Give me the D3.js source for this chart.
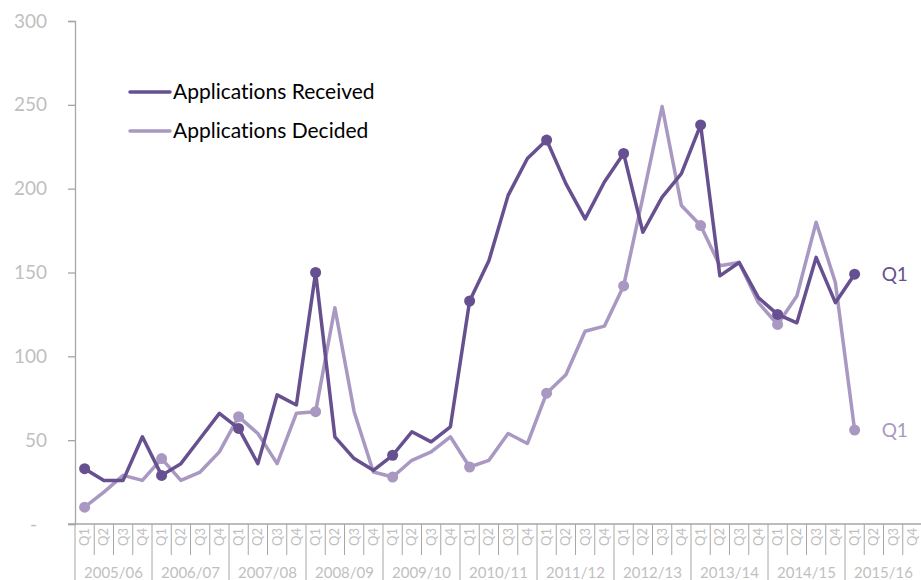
<!DOCTYPE html>
<html lang='en'>
<head>
  <meta charset='UTF-8'>
  <title>Applications Received and Decided</title>
  <style type='text/css'>
    body {
      margin: 0;
      background: #fff;
      font-family: Lato, 'Open Sans', sans-serif;
      font-variant-ligatures: none;
    }
    text {
      font-variant-ligatures: none;
    }
    .axis-label {
      fill: #bfbfbf;
    }
  </style>
  <script type='text/javascript' src='https://d3js.org/d3.v7.min.js'></script>
</head>
<body>
  <script type='text/javascript'>
    const years = ['2005/06', '2006/07', '2007/08', '2008/09', '2009/10', '2010/11',
      '2011/12', '2012/13', '2013/14', '2014/15', '2015/16']
    const quarters = ['Q1', 'Q2', 'Q3', 'Q4']
    const yTicks = [0, 50, 100, 150, 200, 250, 300]

    const received = [33, 26, 26, 52, 29, 36, 51, 66, 57, 36, 77, 71, 150, 52, 39, 32,
      41, 55, 49, 58, 133, 157, 196, 218, 229, 203, 182, 204, 221, 174, 195, 209,
      238, 148, 156, 135, 125, 120, 159, 132, 149]
    const decided = [10, 19, 29, 26, 39, 26, 31, 43, 64, 54, 36, 66, 67, 129, 67, 31,
      28, 38, 43, 52, 34, 38, 54, 48, 78, 89, 115, 118, 142, 195, 249, 190,
      178, 154, 156, 132, 119, 136, 180, 144, 56]

    const seriesNames = ['Applications Received', 'Applications Decided']
    const colors = ['#66508f', '#a898c2']
    const gridColor = '#a6a6a6'

    const width = 921
    const height = 580
    const margin = {left: 75, right: 922, top: 21, bottom: 524}

    const svg = d3.select('body').append('svg')
      .attr('width', width)
      .attr('height', height)

    const keys = []
    years.forEach(y => quarters.forEach(q => keys.push(y + ' ' + q)))

    const xScale = d3.scaleBand().domain(keys).range([margin.left, margin.right]).padding(0)
    const yScale = d3.scaleLinear().domain([0, 300]).range([margin.bottom, margin.top])
    const bw = xScale.bandwidth()

    // y axis
    const yAxis = d3.axisLeft(yScale)
      .tickValues(yTicks)
      .tickSize(7)
      .tickFormat(d => d === 0 ? '-' : d)

    const yg = svg.append('g')
      .attr('transform', `translate(${margin.left},0)`)
      .call(yAxis)
    yg.select('.domain').attr('stroke', gridColor).attr('stroke-width', 1.3)
    yg.selectAll('.tick line').attr('stroke', gridColor).attr('stroke-width', 1.3)
    yg.selectAll('.tick text')
      .attr('class', 'axis-label')
      .attr('x', -28)
      .style('font-size', '19px')
      .style('font-family', 'Lato, sans-serif')
    yg.selectAll('.tick').filter(d => d === 0).select('text').attr('x', -38)

    // x axis line
    svg.append('line')
      .attr('x1', margin.left - 7).attr('x2', margin.right)
      .attr('y1', margin.bottom).attr('y2', margin.bottom)
      .attr('stroke', gridColor).attr('stroke-width', 1.3)

    // quarter separators, longer at each year
    svg.append('g').selectAll('line')
      .data(keys)
      .join('line')
      .attr('x1', d => xScale(d)).attr('x2', d => xScale(d))
      .attr('y1', margin.bottom)
      .attr('y2', (d, i) => i % 4 === 0 ? height : 555)
      .attr('stroke', gridColor).attr('stroke-width', 1)
    svg.append('line')
      .attr('x1', margin.right - 0.5).attr('x2', margin.right - 0.5)
      .attr('y1', margin.bottom).attr('y2', height)
      .attr('stroke', gridColor)

    // quarter labels
    svg.append('g').selectAll('text')
      .data(keys)
      .join('text')
      .attr('class', 'axis-label')
      .attr('transform', d => `translate(${xScale(d) + bw / 2 + 4.5},537) rotate(-90)`)
      .attr('text-anchor', 'middle')
      .style('font-size', '13px')
      .text(d => d.split(' ')[1])

    // year labels
    svg.append('g').selectAll('text')
      .data(years)
      .join('text')
      .attr('class', 'axis-label')
      .attr('x', d => xScale(d + ' Q1') + bw * 2)
      .attr('y', 578)
      .attr('text-anchor', 'middle')
      .style('font-size', '15px')
      .text(d => d)

    // lines
    const line = d3.line()
      .x((d, i) => xScale(keys[i]) + bw / 2)
      .y(d => yScale(d))

    const series = [received, decided]
    // decided first so received sits on top
    ;[1, 0].forEach(s => {
      const vals = series[s]
      svg.append('path')
        .datum(vals)
        .attr('fill', 'none')
        .attr('stroke', colors[s])
        .attr('stroke-width', 3.5)
        .attr('stroke-linejoin', 'round')
        .attr('d', line)

      svg.append('g').selectAll('circle')
        .data(vals.map((v, i) => ({v, i})).filter(d => d.i % 4 === 0))
        .join('circle')
        .attr('cx', d => xScale(keys[d.i]) + bw / 2)
        .attr('cy', d => yScale(d.v))
        .attr('r', 5.5)
        .attr('fill', colors[s])

      const last = vals.length - 1
      svg.append('text')
        .attr('x', xScale(keys[last]) + bw / 2 + 27)
        .attr('y', yScale(vals[last]) + 7)
        .attr('fill', colors[s])
        .style('font-size', '19px')
        .text(quarters[last % 4])
    })

    // legend
    const legend = svg.append('g').selectAll('g')
      .data(seriesNames)
      .join('g')
      .attr('transform', (d, i) => `translate(130,${92 + i * 39})`)

    legend.append('line')
      .attr('x1', 0).attr('x2', 40)
      .attr('stroke', (d, i) => colors[i])
      .attr('stroke-width', 3.5)
      .attr('stroke-linecap', 'round')

    legend.append('text')
      .attr('x', 43)
      .attr('y', 7)
      .attr('fill', '#000')
      .style('font-size', '21px')
      .text(d => d)
  </script>
</body>
</html>
